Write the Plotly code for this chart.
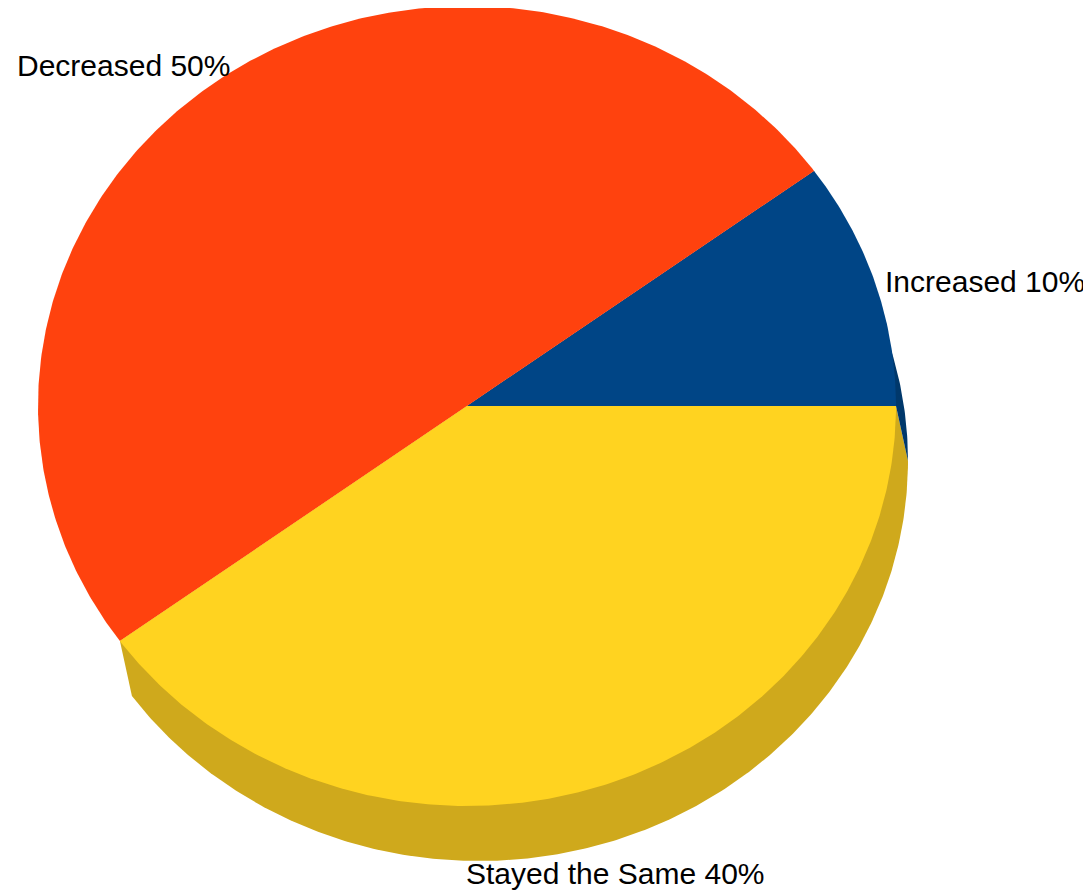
import numpy as np
import plotly.graph_objects as go

# ---- data ----
categories = ["Increased", "Decreased", "Stayed the Same"]
values = [10, 50, 40]
colors = ["#004586", "#ff420e", "#ffd320"]
shadow_colors = ["#00386b", None, "#cfa91c"]
shadow_order = [2, 0]  # draw yellow wall first, blue wall on top

# ---- layout geometry (pixels of the page) ----
PAGE_W, PAGE_H = 1091, 894
BODY_MARGIN = 8  # default html body margin
cx, cy, rx, ry = 467, 406, 429, 400
sdx, sdy = 12, 55
label_pos = [(883, 281, "left"), (15, 65, "left"), (464, 873, "left")]

total = float(sum(values))
bounds = np.concatenate([[0.0], np.cumsum(values) / total * 2 * np.pi])


def arc(a0, a1, ox, oy):
    n = max(3, int(800 * (a1 - a0) / (2 * np.pi)))
    t = np.linspace(a0, a1, n)
    return cx + ox + rx * np.cos(t), cy + oy - ry * np.sin(t)


def wedge(a0, a1):
    ax, ay = arc(a0, a1, 0, 0)
    xs = np.concatenate([[cx], ax, [cx]])
    ys = np.concatenate([[cy], ay, [cy]])
    return xs, ys


def wall(a0, a1):
    # extruded side: centre -> edge at a0 -> shifted arc -> edge at a1 -> centre
    ax, ay = arc(a0, a1, sdx, sdy)
    p0x, p0y = cx + rx * np.cos(a0), cy - ry * np.sin(a0)
    p1x, p1y = cx + rx * np.cos(a1), cy - ry * np.sin(a1)
    xs = np.concatenate([[cx, p0x], ax, [p1x, cx]])
    ys = np.concatenate([[cy, p0y], ay, [p1y, cy]])
    return xs, ys


fig = go.Figure()

for i in shadow_order:
    sc = shadow_colors[i]
    if sc is None:
        continue
    xs, ys = wall(bounds[i], bounds[i + 1])
    fig.add_trace(go.Scatter(x=xs, y=ys, fill="toself", fillcolor=sc,
                             mode="lines", line=dict(width=0, color=sc),
                             hoverinfo="skip", showlegend=False))

for i, c in enumerate(colors):
    xs, ys = wedge(bounds[i], bounds[i + 1])
    fig.add_trace(go.Scatter(x=xs, y=ys, fill="toself", fillcolor=c,
                             mode="lines", line=dict(width=0, color=c),
                             name=categories[i], hoverinfo="name",
                             showlegend=False))

for i, (lx, ly, anc) in enumerate(label_pos):
    pct = round(values[i] / total * 100)
    fig.add_annotation(x=lx, y=ly, xref="x", yref="y",
                       text=f"{categories[i]} {pct}%", showarrow=False,
                       xanchor=anc, yanchor="middle",
                       font=dict(family="Liberation Sans, Arial, sans-serif",
                                 size=30, color="#000000"))

fig.update_layout(
    width=PAGE_W - BODY_MARGIN, height=PAGE_H - BODY_MARGIN,
    margin=dict(l=0, r=0, t=0, b=0),
    paper_bgcolor="white", plot_bgcolor="white",
    xaxis=dict(range=[BODY_MARGIN, PAGE_W], visible=False, fixedrange=True),
    yaxis=dict(range=[PAGE_H, BODY_MARGIN], visible=False, fixedrange=True),
)

fig.write_html("out.html")
